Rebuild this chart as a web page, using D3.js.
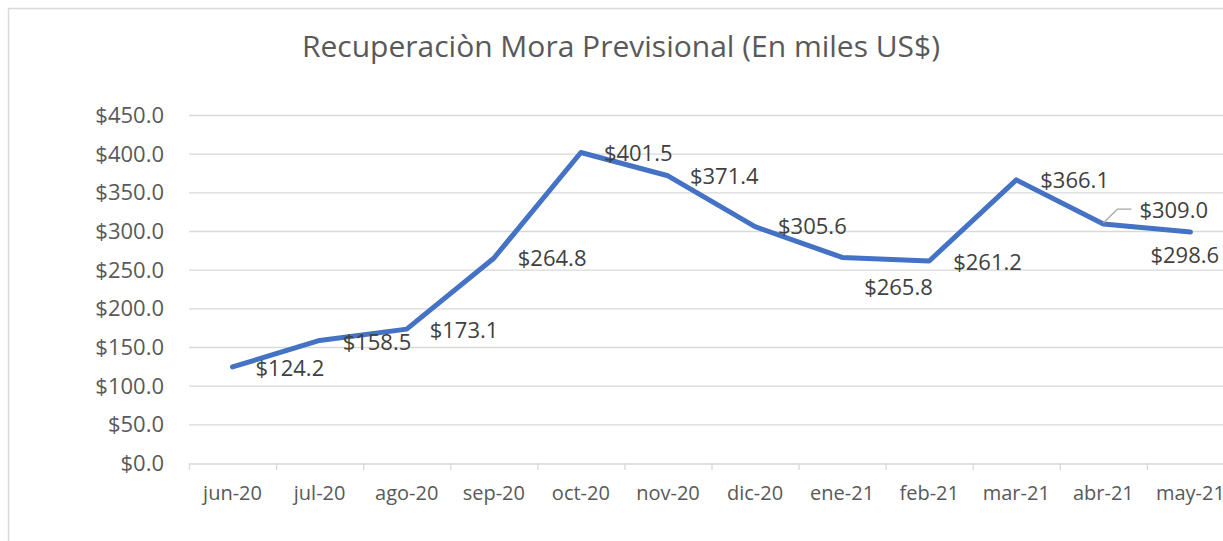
<!DOCTYPE html>
<html>
<head>
<meta charset="utf-8">
<script src="https://cdn.jsdelivr.net/npm/d3@7"></script>
<style>
  body { margin: 0; background: #fff; }
  svg { display: block; font-family: "Open Sans", sans-serif; }
</style>
</head>
<body>
<svg></svg>
<script>
// data
var months = ["jun-20", "jul-20", "ago-20", "sep-20", "oct-20", "nov-20",
              "dic-20", "ene-21", "feb-21", "mar-21", "abr-21", "may-21"];
var values = [124.2, 158.5, 173.1, 264.8, 401.5, 371.4, 305.6, 265.8, 261.2, 366.1, 309.0, 298.6];
var yTicks = [0, 50, 100, 150, 200, 250, 300, 350, 400, 450];

// where each data label sits relative to its point (left edge, vertical centre)
var labelOffsets = [[23, 1], [23, 2], [23, 1], [24, 0], [23, 1], [22, 1],
                    [23, 0], [22, 30], [24, 1], [24, 0], [36, -14], [-40, 23]];

var svgWidth = 1223, svgHeight = 541;
var svg = d3.select("svg")
  .attr("width", svgWidth)
  .attr("height", svgHeight);

// chart outline (only the left and top edges are inside the picture)
svg.append("path")
  .attr("d", "M8.5,541 V8.5 H1223")
  .attr("fill", "none")
  .attr("stroke", "#d9d9d9")
  .attr("stroke-width", 1.5);

svg.append("text")
  .attr("x", 621)
  .attr("y", 57)
  .attr("text-anchor", "middle")
  .attr("fill", "#595959")
  .style("font-size", "30px")
  .text("Recuperaciòn Mora Previsional (En miles US$)");

var x = d3.scaleBand().domain(months).range([189, 1234]);
var y = d3.scaleLinear().domain([0, 450]).range([463, 115]);

// gridlines
svg.append("g")
  .selectAll("line")
  .data(yTicks.slice(1))
  .join("line")
  .attr("x1", 189)
  .attr("x2", 1234)
  .attr("y1", function(d) { return y(d) + 0.5; })
  .attr("y2", function(d) { return y(d) + 0.5; })
  .attr("stroke", "#d9d9d9")
  .attr("stroke-width", 1.3);

var yAxis = svg.append("g")
  .attr("transform", "translate(189,0.5)")
  .call(d3.axisLeft(y).tickValues(yTicks).tickSize(0).tickPadding(25)
    .tickFormat(function(d) { return "$" + d3.format(".1f")(d); }));
yAxis.select(".domain").remove();
yAxis.selectAll("text")
  .attr("fill", "#595959")
  .style("font-size", "22px")
  .style("font-family", "Open Sans, sans-serif");

var xAxis = svg.append("g")
  .attr("transform", "translate(0,463.5)")
  .call(d3.axisBottom(x).tickSize(0).tickPadding(22));
xAxis.select(".domain")
  .attr("stroke", "#d9d9d9")
  .attr("stroke-width", 1.3);
xAxis.selectAll("text")
  .attr("fill", "#595959")
  .style("font-size", "20px")
  .style("font-family", "Open Sans, sans-serif");

// category boundary ticks
svg.append("g")
  .selectAll("line")
  .data(months)
  .join("line")
  .attr("x1", function(d) { return x(d) + 0.5; })
  .attr("x2", function(d) { return x(d) + 0.5; })
  .attr("y1", 463)
  .attr("y2", 470)
  .attr("stroke", "#d9d9d9")
  .attr("stroke-width", 1.3);

var cx = function(i) { return x(months[i]) + x.bandwidth() / 2; };

var line = d3.line()
  .x(function(d, i) { return cx(i); })
  .y(function(d) { return y(d); });

svg.append("path")
  .datum(values)
  .attr("fill", "none")
  .attr("stroke", "#4472c4")
  .attr("stroke-width", 5)
  .attr("stroke-linejoin", "round")
  .attr("stroke-linecap", "round")
  .attr("d", line);

// leader line for the abr-21 label
svg.append("path")
  .attr("d", "M" + cx(10) + "," + (y(values[10]) - 1) +
             " L" + (cx(10) + 14) + "," + (y(values[10]) - 15) +
             " H" + (cx(10) + 28))
  .attr("fill", "none")
  .attr("stroke", "#a6a6a6")
  .attr("stroke-width", 1.3);

svg.append("g")
  .selectAll("text")
  .data(values)
  .join("text")
  .attr("x", function(d, i) { return cx(i) + labelOffsets[i][0]; })
  .attr("y", function(d, i) { return y(d) + labelOffsets[i][1]; })
  .attr("dy", "0.35em")
  .attr("fill", "#404040")
  .style("font-size", "22px")
  .text(function(d) { return "$" + d3.format(".1f")(d); });
</script>
</body>
</html>
